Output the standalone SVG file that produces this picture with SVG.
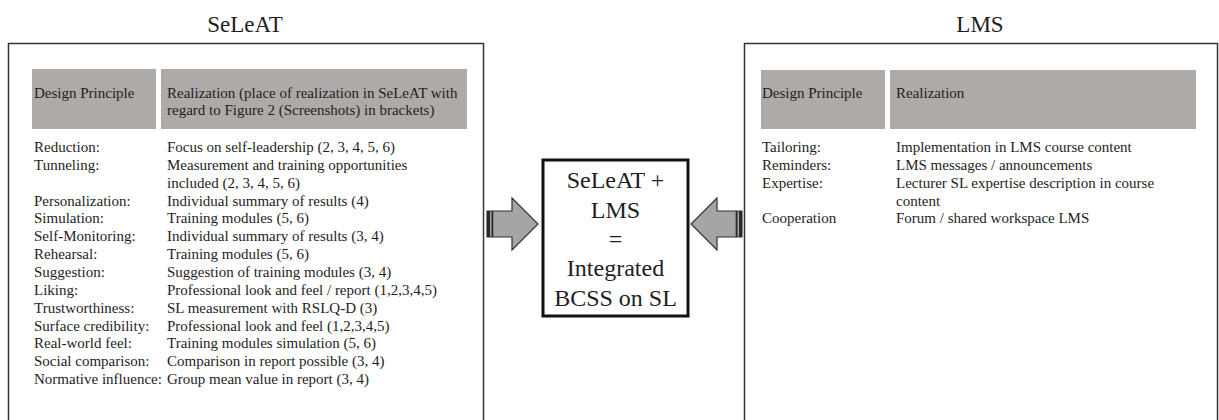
<svg xmlns="http://www.w3.org/2000/svg" width="1219" height="420" viewBox="0 0 1219 420">
<style>
text{font-family:"Liberation Serif","Times New Roman",serif;fill:#1e1e1e}
.title{font-size:23px;text-anchor:middle}
.b{font-size:15px}
.panel{fill:#fff;stroke:#333;stroke-width:1.5}
.hdr{fill:#aeaaa8}
.center{fill:#fff;stroke:#111;stroke-width:3}
.ct{font-size:24px;text-anchor:middle}
.arr{fill:#a7a5a4;stroke:#333;stroke-width:1.2}
.stripe{fill:#2a2a2a}
</style>
<rect width="1219" height="420" fill="#fff"/>

<g id="seleat">
<text class="title" x="245" y="32">SeLeAT</text>
<path class="panel" d="M8.5,425 V43.5 H483.5 V425"/>
<rect class="hdr" x="32" y="69" width="124" height="60"/>
<rect class="hdr" x="161" y="69" width="306" height="60"/>
<text class="b" x="34" y="98">Design Principle</text>
<text class="b" x="167" y="98">Realization (place of realization in SeLeAT with</text>
<text class="b" x="167" y="115">regard to Figure 2 (Screenshots) in brackets)</text>
<g class="b">
<text class="b" x="34" y="152">Reduction:</text>
<text class="b" x="34" y="169.9">Tunneling:</text>
<text class="b" x="34" y="205.6">Personalization:</text>
<text class="b" x="34" y="223.4">Simulation:</text>
<text class="b" x="34" y="241.3">Self-Monitoring:</text>
<text class="b" x="34" y="259.1">Rehearsal:</text>
<text class="b" x="34" y="277">Suggestion:</text>
<text class="b" x="34" y="294.8">Liking:</text>
<text class="b" x="34" y="312.7">Trustworthiness:</text>
<text class="b" x="34" y="330.5">Surface credibility:</text>
<text class="b" x="34" y="348.4">Real-world feel:</text>
<text class="b" x="34" y="366.2">Social comparison:</text>
<text class="b" x="34" y="384">Normative influence:</text>
<text class="b" x="167" y="152">Focus on self-leadership (2, 3, 4, 5, 6)</text>
<text class="b" x="167" y="169.9">Measurement and training opportunities</text>
<text class="b" x="167" y="187.7">included (2, 3, 4, 5, 6)</text>
<text class="b" x="167" y="205.6">Individual summary of results (4)</text>
<text class="b" x="167" y="223.4">Training modules (5, 6)</text>
<text class="b" x="167" y="241.3">Individual summary of results (3, 4)</text>
<text class="b" x="167" y="259.1">Training modules (5, 6)</text>
<text class="b" x="167" y="277">Suggestion of training modules (3, 4)</text>
<text class="b" x="167" y="294.8">Professional look and feel / report (1,2,3,4,5)</text>
<text class="b" x="167" y="312.7">SL measurement with RSLQ-D (3)</text>
<text class="b" x="167" y="330.5">Professional look and feel (1,2,3,4,5)</text>
<text class="b" x="167" y="348.4">Training modules simulation (5, 6)</text>
<text class="b" x="167" y="366.2">Comparison in report possible (3, 4)</text>
<text class="b" x="167" y="384">Group mean value in report (3, 4)</text>
</g>
</g>

<g id="lms">
<text class="title" x="980" y="32">LMS</text>
<path class="panel" d="M744.5,425 V43.5 H1217.5 V425"/>
<rect class="hdr" x="761" y="70" width="124" height="59"/>
<rect class="hdr" x="890" y="70" width="306" height="59"/>
<text class="b" x="762" y="98">Design Principle</text>
<text class="b" x="896" y="98">Realization</text>
<text class="b" x="762" y="152">Tailoring:</text>
<text class="b" x="762" y="169.9">Reminders:</text>
<text class="b" x="762" y="187.7">Expertise:</text>
<text class="b" x="762" y="223.4">Cooperation</text>
<text class="b" x="896" y="152">Implementation in LMS course content</text>
<text class="b" x="896" y="169.9">LMS messages / announcements</text>
<text class="b" x="896" y="187.7">Lecturer SL expertise description in course</text>
<text class="b" x="896" y="205.6">content</text>
<text class="b" x="896" y="223.4">Forum / shared workspace LMS</text>
</g>

<g id="integrated">
<rect class="center" x="543" y="160" width="145" height="156"/>
<text class="ct" x="615.5" y="188">SeLeAT +</text>
<text class="ct" x="615.5" y="218">LMS</text>
<text class="ct" x="615.5" y="247">=</text>
<text class="ct" x="615.5" y="276">Integrated</text>
<text class="ct" x="615.5" y="306">BCSS on SL</text>
</g>

<g id="connectors">
<g id="arrow-left">
<path class="arr" d="M487,211 H512 V198 L538,224 L512,250 V237 H487 Z"/>
<rect class="stripe" x="487" y="211" width="3" height="26"/>
<rect class="stripe" x="491.5" y="211" width="1.8" height="26"/>
</g>
<g id="arrow-right">
<path class="arr" d="M742,211 H717 V198 L691,224 L717,250 V237 H742 Z"/>
<rect class="stripe" x="739" y="211" width="3" height="26"/>
<rect class="stripe" x="735.7" y="211" width="1.8" height="26"/>
</g>
</g>
</svg>
